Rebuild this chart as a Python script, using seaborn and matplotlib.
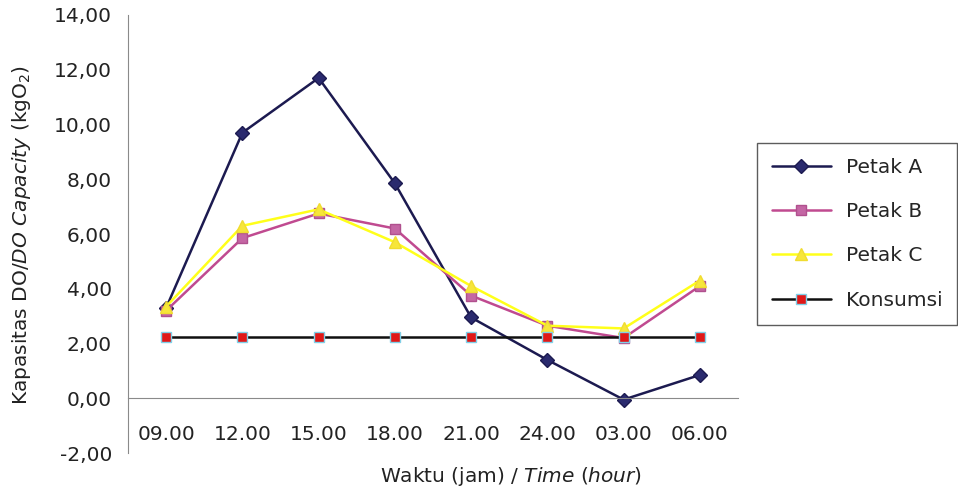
import matplotlib
matplotlib.use("Agg")
import matplotlib.pyplot as plt
import numpy as np
import pandas as pd
import seaborn as sns
from matplotlib.ticker import FixedLocator, FuncFormatter

# data
waktu = ["09.00", "12.00", "15.00", "18.00", "21.00", "24.00", "03.00", "06.00"]
petak_a = [3.30, 9.70, 11.70, 7.85, 2.95, 1.40, -0.05, 0.85]
petak_b = [3.20, 5.85, 6.75, 6.20, 3.75, 2.65, 2.20, 4.10]
petak_c = [3.35, 6.30, 6.90, 5.70, 4.10, 2.65, 2.55, 4.30]
konsumsi = [2.25, 2.25, 2.25, 2.25, 2.25, 2.25, 2.25, 2.25]

sns.set_style("white")
plt.rcParams["font.family"] = ["DejaVu Sans"]
plt.rcParams["mathtext.fontset"] = "custom"
plt.rcParams["mathtext.rm"] = "DejaVu Sans"
plt.rcParams["mathtext.it"] = "DejaVu Sans:italic"

FS = 14.5
TXT = "#222222"
AX = "#8a8a8a"

fig = plt.figure(figsize=(9.58, 4.94), dpi=100)
ax = fig.add_axes([128 / 958, 1 - 453 / 494, (738 - 128) / 958, (453 - 15) / 494])

series = [
    ("Petak A", petak_a, "#1c1a50", "D", 7, "#2a2a6e", "#1c1a50"),
    ("Petak B", petak_b, "#c04a90", "s", 7, "#c466a4", "#b0508e"),
    ("Petak C", petak_c, "#ffff1a", "^", 9, "#f7e63a", "#f0dc30"),
    ("Konsumsi", konsumsi, "#101010", "s", 6.5, "#e01818", "#80d0e8"),
]

for name, vals, col, mk, ms, mfc, mec in series:
    df = pd.DataFrame({"Waktu": waktu, "Nilai": vals})
    sns.lineplot(data=df, x="Waktu", y="Nilai", sort=False, ax=ax, color=col,
                 linewidth=1.8, marker=mk, markersize=ms, markerfacecolor=mfc,
                 markeredgecolor=mec, markeredgewidth=1.0, label=name)

ax.set_xlim(-0.5, 7.5)
ax.set_ylim(-2, 14)
ax.set_yticks(np.arange(-2, 15, 2))
ax.yaxis.set_major_formatter(FuncFormatter(lambda v, p: f"{v:.2f}".replace(".", ",")))

for s in ["top", "right"]:
    ax.spines[s].set_visible(False)
ax.spines["left"].set_color(AX)
ax.spines["bottom"].set_color(AX)
ax.spines["bottom"].set_position(("data", 0))

ax.xaxis.set_minor_locator(FixedLocator(np.arange(-0.5, 8, 1)))
ax.tick_params(axis="x", which="major", length=0, pad=19, labelsize=FS, labelcolor=TXT)
ax.tick_params(axis="x", which="minor", length=6, direction="out", color=AX)
ax.tick_params(axis="y", length=4.5, direction="out", color=AX, labelsize=FS,
               labelcolor=TXT, pad=7)

ax.set_xlabel("")
ax.set_ylabel("")
fig.text(22 / 958, 1 - 235 / 494, r"Kapasitas DO/$\it{DO\ Capacity}$ (kgO$_2$)",
         fontsize=FS, color=TXT, rotation=90, ha="center", va="center")
fig.text(511 / 958, 1 - 476 / 494, r"Waktu (jam) / $\it{Time}$ ($\it{hour}$)",
         fontsize=FS, color=TXT, ha="center", va="center")

leg = ax.legend(loc="upper left", bbox_to_anchor=(757 / 958, 1 - 143 / 494),
                bbox_transform=fig.transFigure, frameon=True, fancybox=False,
                fontsize=FS, handlelength=2.9, labelspacing=1.25, borderpad=0.75,
                handletextpad=0.75, borderaxespad=0)
leg.get_frame().set_edgecolor("#333333")
leg.get_frame().set_linewidth(1.0)

fig.savefig("out.png", dpi=100)
